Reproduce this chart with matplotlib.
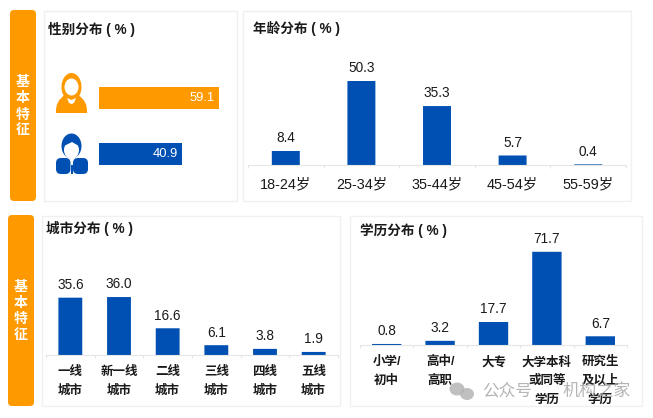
import matplotlib
matplotlib.use("Agg")
import matplotlib.pyplot as plt
from matplotlib.patches import Ellipse, FancyBboxPatch, PathPatch, Polygon, Rectangle
from matplotlib.path import Path

plt.rcParams['font.family'] = ['Liberation Sans', 'Noto Sans CJK SC']

W, H = 653, 418
BLUE = '#0050B3'
ORANGE = '#FF9900'
AXIS = '#E6E6E6'
TEXT = '#1A1A1A'

# data
gender_values = [59.1, 40.9]

age_labels = ['18-24岁', '25-34岁', '35-44岁', '45-54岁', '55-59岁']
age_values = [8.4, 50.3, 35.3, 5.7, 0.4]

city_labels = ['一线\n城市', '新一线\n城市', '二线\n城市', '三线\n城市', '四线\n城市', '五线\n城市']
city_values = [35.6, 36.0, 16.6, 6.1, 3.8, 1.9]

edu_labels = ['小学/\n初中', '高中/\n高职', '大专', '大学本科\n或同等\n学历', '研究生\n及以上\n学历']
edu_values = [0.8, 3.2, 17.7, 71.7, 6.7]

fig = plt.figure(figsize=(W / 100, H / 100), dpi=100, facecolor='white')


def px_axes(x0, y0, x1, y1, z=1):
    # axes placed by pixel box, y measured from the top of the image
    ax = fig.add_axes([x0 / W, 1 - y1 / H, (x1 - x0) / W, (y1 - y0) / H], zorder=z)
    ax.patch.set_alpha(0)
    return ax


bg = px_axes(0, 0, W, H, z=0)
bg.set_xlim(0, W)
bg.set_ylim(H, 0)
bg.axis('off')


def sidebar(x0, y0, x1, y1, ys):
    bg.add_patch(FancyBboxPatch((x0 + 4, y0 + 4), x1 - x0 - 8, y1 - y0 - 8,
                                boxstyle='round,pad=4,rounding_size=4', fc=ORANGE, ec='none'))
    for ch, y in zip('基本特征', ys):
        bg.text((x0 + x1) / 2, y, ch, color='white', fontsize=10, fontweight='bold',
                ha='center', va='center')


def panel(x0, y0, x1, y1, title, tx, ty):
    bg.add_patch(Rectangle((x0, y0), x1 - x0, y1 - y0, fc='white', ec='#F0F0F0', lw=1))
    bg.text(tx, ty, title, color=TEXT, fontsize=9.8, fontweight='bold', ha='left', va='center')


sidebar(10, 10, 36, 201, [82, 98, 115, 130])
sidebar(8, 215, 34, 406, [287, 303, 319, 335])
panel(43.5, 10.5, 237, 201, '性别分布 ( % )', 48, 29)
panel(242.5, 10.5, 631, 201, '年龄分布 ( % )', 253, 28)
panel(41.5, 215.5, 340, 406, '城市分布 ( % )', 46, 228)
panel(350, 215.5, 642, 406, '学历分布 ( % )', 360, 231)

# female icon
bg.add_patch(Ellipse((71.5, 87), 20, 28, fc=ORANGE, ec='none'))
shoulders = Path([(56, 113), (55, 101), (65, 95), (78, 95), (88, 101), (87, 113), (56, 113)],
                 [Path.MOVETO, Path.CURVE3, Path.CURVE3, Path.LINETO, Path.CURVE3, Path.CURVE3,
                  Path.CLOSEPOLY])
bg.add_patch(PathPatch(shoulders, fc=ORANGE, ec='none'))
bg.add_patch(Ellipse((71.5, 87), 14, 17, fc='white', ec='none'))
bg.add_patch(Polygon([(67, 98), (71.5, 100), (76, 98), (74, 103), (71.5, 104), (69, 103)],
                     fc='white', ec='none'))

# male icon
bg.add_patch(Ellipse((71.5, 146), 20, 25, fc=BLUE, ec='none'))
bg.add_patch(Ellipse((71.5, 150), 15, 18, fc='white', ec='none'))
bg.add_patch(Polygon([(64, 146), (72, 142), (79, 146), (79, 138), (64, 138)], fc=BLUE, ec='none'))
bg.add_patch(FancyBboxPatch((59, 161), 8.5, 10, boxstyle='round,pad=3,rounding_size=5', fc=BLUE, ec='none'))
bg.add_patch(FancyBboxPatch((76, 161), 9, 10, boxstyle='round,pad=3,rounding_size=5', fc=BLUE, ec='none'))
bg.add_patch(Rectangle((70.5, 165), 2, 9, fc=BLUE, ec='none'))

# gender bars
ax_g = px_axes(99, 70, 219, 182)
ax_g.axis('off')
ax_g.set_xlim(0, gender_values[0])
ax_g.set_ylim(1.5, -0.5)
ax_g.barh(range(2), gender_values, height=0.39, color=[ORANGE, BLUE])
for i, v in enumerate(gender_values):
    ax_g.annotate(f'{v:.1f}', (v, i), xytext=(-3, 0), textcoords='offset points',
                  color='white', fontsize=9.4, ha='right', va='center')


def column_chart(box, labels, values, px_per_unit, width, pad, size=9.0, weight='bold'):
    x0, x1, base, top = box
    ax = px_axes(x0, top, x1, base)
    ax.set_xlim(-0.5, len(values) - 0.5)
    ax.set_ylim(0, (base - top) / px_per_unit)
    bars = ax.bar(range(len(values)), values, width=width, color=BLUE)
    for b in bars:
        b.set_snap(False)
    for i, v in enumerate(values):
        ax.annotate(f'{v:.1f}', (i, v), xytext=(0, 4), textcoords='offset points',
                    color=TEXT, fontsize=9.8, ha='center', va='bottom')
    for s in ['top', 'left', 'right']:
        ax.spines[s].set_visible(False)
    ax.spines['bottom'].set_color(AXIS)
    ax.spines['bottom'].set_linewidth(0.8)
    ax.set_yticks([])
    ax.set_xticks(range(len(values)))
    ax.set_xticklabels(labels, fontsize=size, fontweight=weight, color=TEXT, linespacing=1.7)
    ax.tick_params(axis='x', which='major', length=0, pad=pad)
    ax.set_xticks([i - 0.5 for i in range(len(values) + 1)], minor=True)
    ax.tick_params(axis='x', which='minor', length=2, width=0.8, color=AXIS)
    return ax


column_chart((248, 626, 165, 40), age_labels, age_values, 1.67, 0.37, 9, size=10.4, weight='normal')
column_chart((46, 338, 355, 250), city_labels, city_values, 1.61, 0.49, 8)
column_chart((360, 627, 345, 235), edu_labels, edu_values, 1.30, 0.55, 8)

# watermark
top = px_axes(0, 0, W, H, z=2)
top.set_xlim(0, W)
top.set_ylim(H, 0)
top.axis('off')
top.add_patch(Ellipse((457, 389), 15, 13, fc='#B5B5B5', ec='none', alpha=0.85))
top.add_patch(Ellipse((467, 394), 14, 12, fc='#B5B5B5', ec='none', alpha=0.85))
top.text(482, 391, '公众号', color='#A8A8A8', alpha=0.85, fontsize=12, ha='left', va='center')
top.text(563, 391, '机构之家', color='#A8A8A8', alpha=0.85, fontsize=12.3, ha='left', va='center')

fig.savefig('out.png', dpi=100)
